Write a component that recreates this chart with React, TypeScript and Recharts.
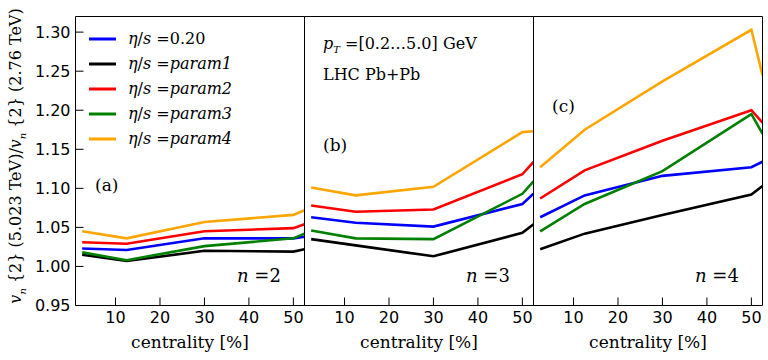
import { LineChart, Line, XAxis, YAxis, Legend } from "recharts"

const centrality = [2.5, 12.5, 30, 50, 52.5]
const xTicks = [10, 20, 30, 40, 50]
const yTicks = [0.95, 1.0, 1.05, 1.1, 1.15, 1.2, 1.25, 1.3]

const etaLabels = ["0.20", "param1", "param2", "param3", "param4"]
const colors = ["#0000ff", "#000000", "#ff0000", "#008000", "#ffa500"]

// n = 2
const n2Eta020 = [1.023, 1.021, 1.036, 1.036, 1.038]
const n2Param1 = [1.015, 1.007, 1.02, 1.019, 1.022]
const n2Param2 = [1.031, 1.029, 1.045, 1.049, 1.054]
const n2Param3 = [1.018, 1.008, 1.026, 1.036, 1.042]
const n2Param4 = [1.045, 1.036, 1.057, 1.066, 1.072]

// n = 3
const n3Eta020 = [1.063, 1.056, 1.051, 1.08, 1.093]
const n3Param1 = [1.035, 1.027, 1.013, 1.043, 1.054]
const n3Param2 = [1.078, 1.07, 1.073, 1.118, 1.134]
const n3Param3 = [1.046, 1.036, 1.035, 1.093, 1.109]
const n3Param4 = [1.101, 1.091, 1.102, 1.172, 1.173]

// n = 4
const n4Eta020 = [1.063, 1.091, 1.116, 1.127, 1.134]
const n4Param1 = [1.022, 1.042, 1.066, 1.092, 1.103]
const n4Param2 = [1.087, 1.123, 1.161, 1.2, 1.184]
const n4Param3 = [1.045, 1.08, 1.122, 1.195, 1.17]
const n4Param4 = [1.127, 1.175, 1.237, 1.303, 1.245]

function buildRows(series: number[][]) {
  return centrality.map((c, i) => {
    const row: Record<string, number> = { c }
    series.forEach((s, k) => {
      row["s" + k] = s[i]
    })
    return row
  })
}

const panels = [
  { n: 2, rows: buildRows([n2Eta020, n2Param1, n2Param2, n2Param3, n2Param4]) },
  { n: 3, rows: buildRows([n3Eta020, n3Param1, n3Param2, n3Param3, n3Param4]) },
  { n: 4, rows: buildRows([n4Eta020, n4Param1, n4Param2, n4Param3, n4Param4]) },
]

const serif = "'DejaVu Serif', serif"
const sans = "'DejaVu Sans', sans-serif"

function LegendBox({ payload }: any) {
  const items = (payload || []).filter((p: any) => p.type !== "none" && p.color !== "none")
  return (
    <div style={{ fontFamily: serif, fontSize: 16, color: "#000" }}>
      {items.map((p: any) => (
        <div key={p.value} style={{ height: 25, display: "flex", alignItems: "center", whiteSpace: "nowrap" }}>
          <svg width={27} height={4} style={{ marginRight: 12 }}>
            <line x1={0} y1={2} x2={27} y2={2} stroke={p.color} strokeWidth={3} />
          </svg>
          <span>
            <i>η</i>/<i>s</i> =
            {p.value.startsWith("param") ? <i>{p.value}</i> : p.value}
          </span>
        </div>
      ))}
    </div>
  )
}

// div left, svg width, margins per panel (half-pixel offsets keep the frame crisp)
const panelLeft = [0, 299, 528]
const panelWidth = [310, 240, 240]
const panelMargin = [
  { top: 11.5, right: 0.5, bottom: 24.5, left: 35.5 },
  { top: 11.5, right: 0.5, bottom: 24.5, left: 0.5 },
  { top: 11.5, right: 0.5, bottom: 24.5, left: 0.5 },
]

function Panel({ idx }: { idx: number }) {
  const p = panels[idx]
  const first = idx === 0
  return (
    <div style={{ position: "absolute", left: panelLeft[idx], top: 0 }}>
      <LineChart width={panelWidth[idx]} height={360} data={p.rows} margin={panelMargin[idx]}>
        <XAxis
          xAxisId="b"
          dataKey="c"
          type="number"
          domain={[1, 52.5]}
          allowDataOverflow
          ticks={xTicks}
          orientation="bottom"
          height={30}
          tickSize={-8}
          tickMargin={14}
          stroke="#000"
          tick={{ fill: "#000", fontFamily: sans, fontSize: 16 }}
        />
        <XAxis
          xAxisId="t"
          dataKey="c"
          type="number"
          domain={[1, 52.5]}
          allowDataOverflow
          ticks={xTicks}
          orientation="top"
          height={5}
          tickSize={-8}
          tick={false}
          stroke="#000"
        />
        <YAxis
          yAxisId="l"
          type="number"
          domain={[0.95, 1.32]}
          allowDataOverflow
          ticks={yTicks}
          width={first ? 40 : 5}
          tickSize={-8}
          tickMargin={13}
          tickFormatter={(v: number) => v.toFixed(2)}
          tick={first ? { fill: "#000", fontFamily: sans, fontSize: 16 } : false}
          stroke="#000"
        />
        <YAxis
          yAxisId="r"
          orientation="right"
          type="number"
          domain={[0.95, 1.32]}
          allowDataOverflow
          ticks={yTicks}
          width={5}
          tickSize={-8}
          tick={false}
          stroke="#000"
        />
        {first && (
          <Legend
            layout="vertical"
            align="center"
            verticalAlign="middle"
            content={LegendBox}
            wrapperStyle={{ left: 89, top: 26, width: 200 }}
          />
        )}
        {etaLabels.map((lab, k) => (
          <Line
            key={lab}
            xAxisId="b"
            yAxisId="l"
            type="linear"
            dataKey={"s" + k}
            name={lab}
            stroke={colors[k]}
            strokeWidth={2.6}
            dot={false}
            isAnimationActive={false}
          />
        ))}
        {/* invisible series so the top and right frame axes get drawn */}
        <Line
          xAxisId="t"
          yAxisId="r"
          dataKey="s0"
          stroke="none"
          legendType="none"
          dot={false}
          activeDot={false}
          isAnimationActive={false}
        />
      </LineChart>
    </div>
  )
}

const note: React.CSSProperties = {
  position: "absolute",
  fontFamily: serif,
  color: "#000",
  whiteSpace: "nowrap",
  lineHeight: 1,
}

const panelCenters = [190, 419, 648]
const panelTags = ["(a)", "(b)", "(c)"]
const tagPos = [
  [95, 177],
  [323, 137],
  [552, 98],
]
const nLeft = [237, 466, 695]

export default function App() {
  return (
    <div style={{ position: "absolute", left: 0, top: 0, width: 768, height: 360, background: "#fff" }}>
      <Panel idx={0} />
      <Panel idx={1} />
      <Panel idx={2} />

      <div
        style={{
          ...note,
          left: 18,
          top: 156,
          fontSize: 16,
          transform: "translate(-50%, -50%) rotate(-90deg)",
        }}
      >
        <i>v</i>
        <sub style={{ fontSize: 10 }}>
          <i>n</i>
        </sub>
        {" {2} (5.023 TeV)/"}
        <i>v</i>
        <sub style={{ fontSize: 10 }}>
          <i>n</i>
        </sub>
        {" {2} (2.76 TeV)"}
      </div>

      {panels.map((p, i) => (
        <div key={"tag" + i}>
          <div style={{ ...note, left: tagPos[i][0], top: tagPos[i][1], fontSize: 17 }}>{panelTags[i]}</div>
          <div style={{ ...note, left: nLeft[i], top: 267, fontSize: 18 }}>
            <i>n</i> ={p.n}
          </div>
          <div
            style={{
              ...note,
              left: panelCenters[i],
              top: 334,
              fontSize: 17,
              transform: "translateX(-50%)",
            }}
          >
            centrality [%]
          </div>
        </div>
      ))}

      <div style={{ ...note, left: 323, top: 36, fontSize: 16 }}>
        <i>p</i>
        <sub style={{ fontSize: 10 }}>
          <i>T</i>
        </sub>
        {" =[0.2…5.0] GeV"}
      </div>
      <div style={{ ...note, left: 323, top: 67, fontSize: 16 }}>LHC Pb+Pb</div>
    </div>
  )
}
